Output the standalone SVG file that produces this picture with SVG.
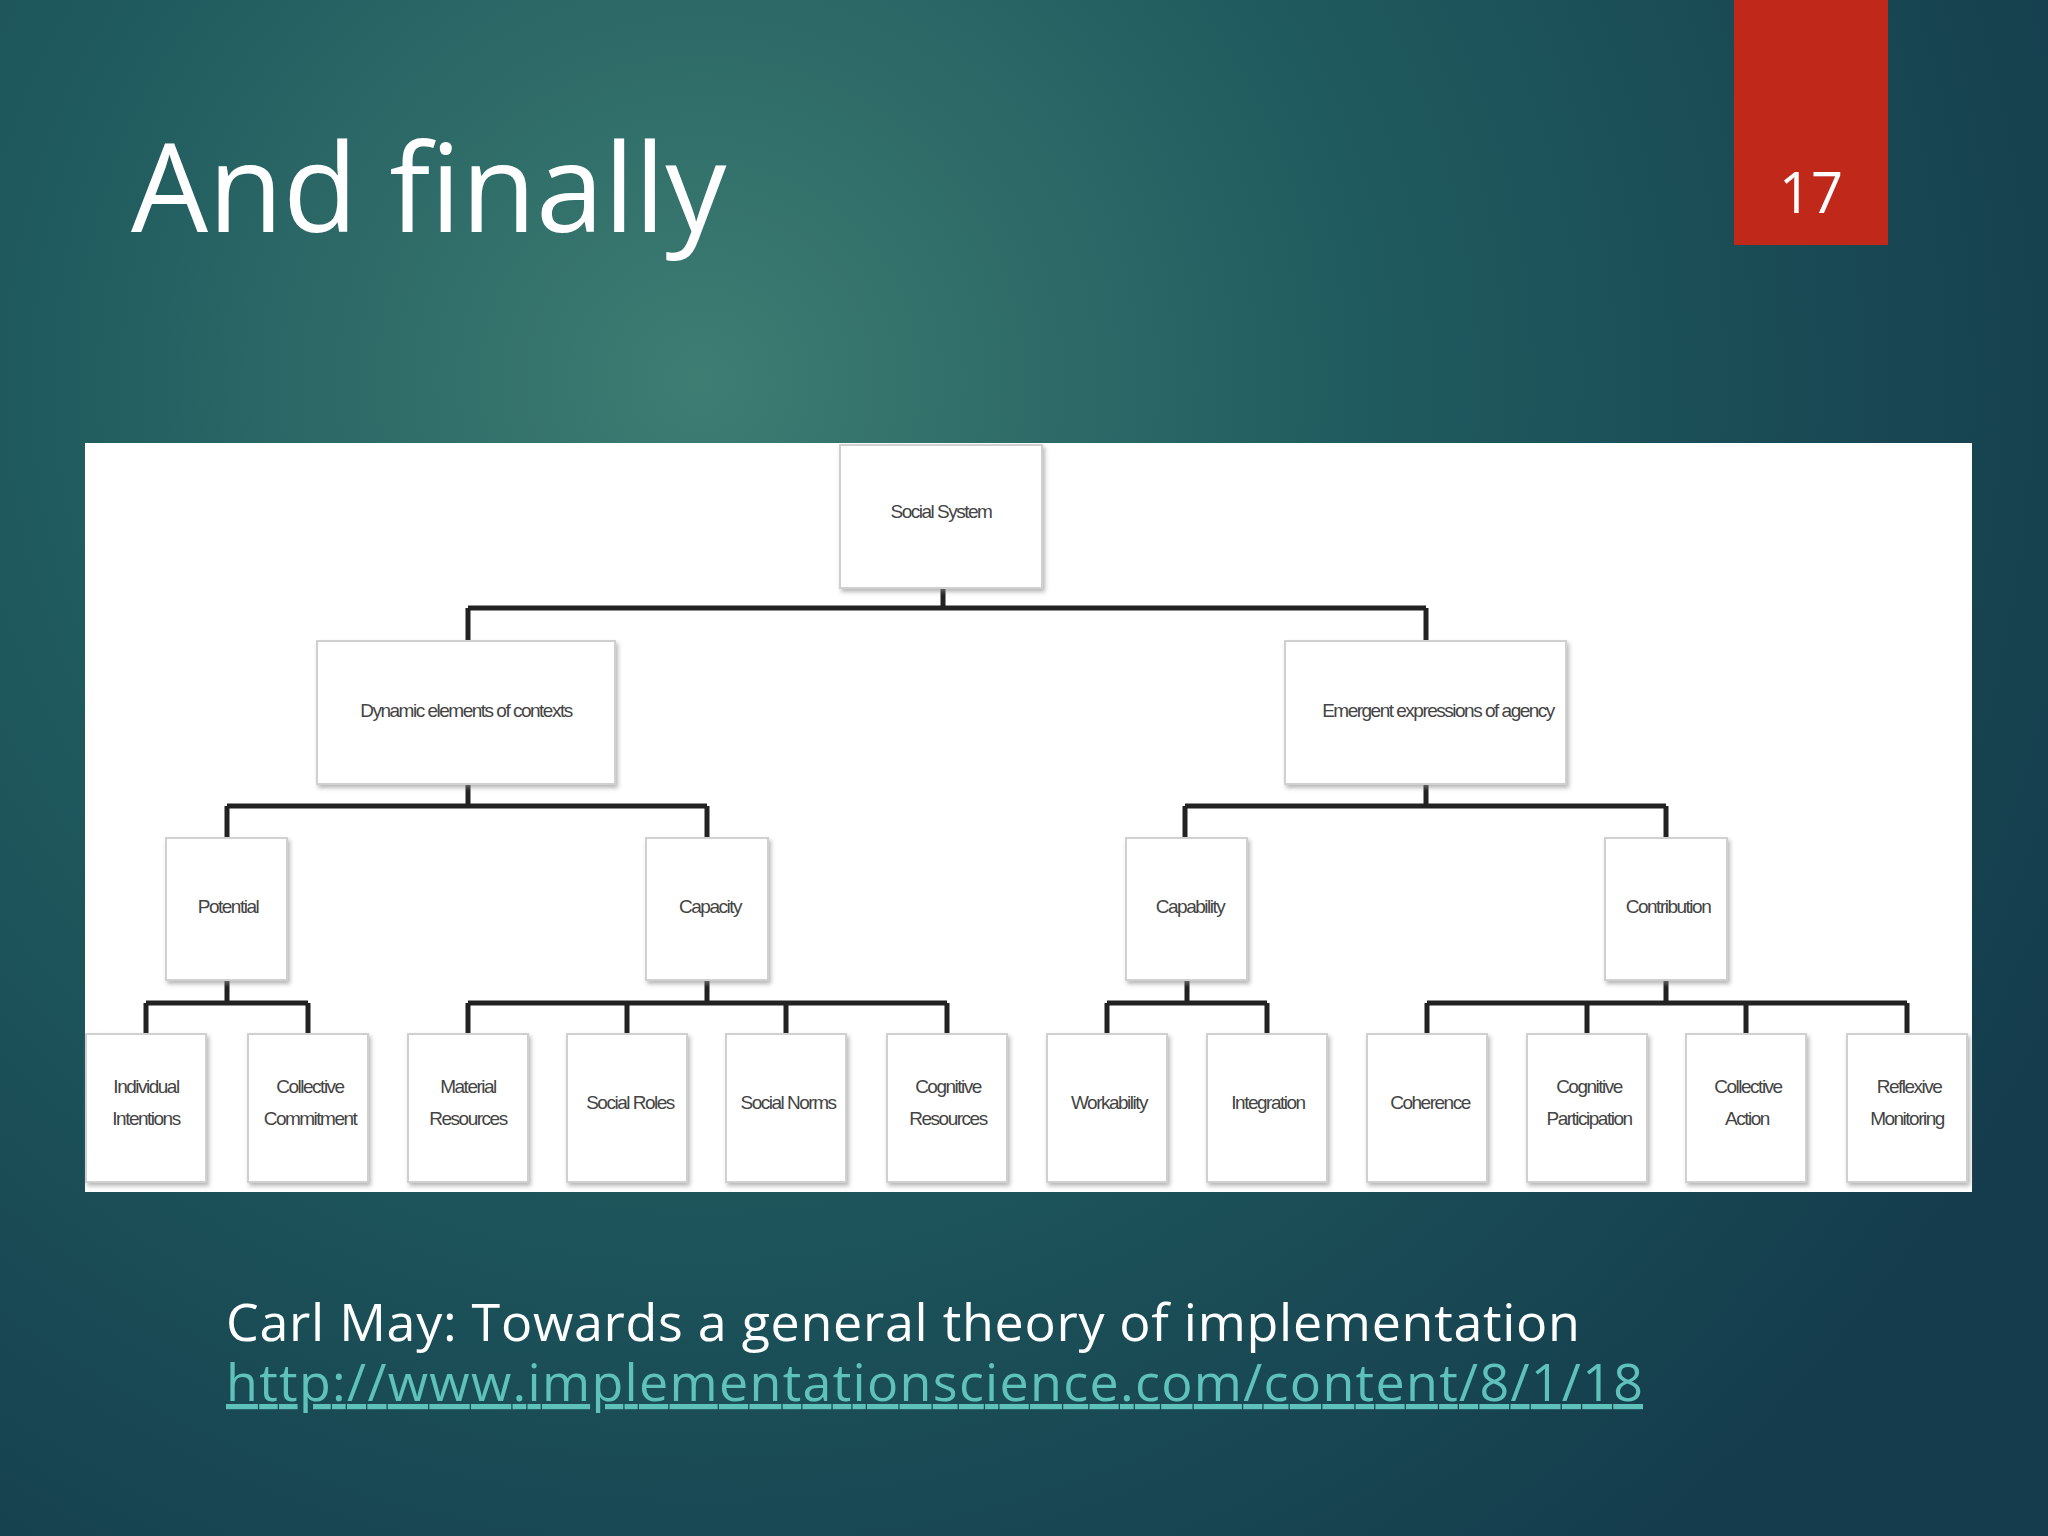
<svg xmlns="http://www.w3.org/2000/svg" width="2048" height="1536" viewBox="0 0 2048 1536">
<defs>
<radialGradient id="bg" cx="700" cy="380" r="1500" gradientUnits="userSpaceOnUse">
<stop offset="0" stop-color="#3d7d72"/><stop offset="0.45" stop-color="#1f5a5e"/><stop offset="1" stop-color="#143c4c"/>
</radialGradient>
<filter id="sh" x="-10%" y="-10%" width="130%" height="130%"><feDropShadow dx="2" dy="3" stdDeviation="2" flood-color="#888" flood-opacity="0.6"/></filter>
</defs>
<style>
.b{fill:#fff;stroke:#d0d0d0;stroke-width:2;filter:url(#sh)}
.t{font-family:"Liberation Sans",Arial,sans-serif;font-size:19px;fill:#444;text-anchor:middle;letter-spacing:-1.5px}
.c{stroke:#222;stroke-width:5;fill:none}
</style>
<rect width="2048" height="1536" fill="url(#bg)"/>
<text x="131" y="232" font-family="'Open Sans',Lato,sans-serif" font-size="122" fill="#fff">And finally</text>
<rect x="1734" y="0" width="154" height="245" fill="#c0281a"/>
<text x="1811" y="213" font-family="'Open Sans',sans-serif" font-size="56" fill="#fff" text-anchor="middle">17</text>
<rect x="85" y="443" width="1887" height="749" fill="#fff"/>
<g id="connectors">
<path class="c" d="M943 588V608M468 608H1426M468 608V641M1426 608V641"/>
<path class="c" d="M468 784V806M227 806H707M227 806V838M707 806V838M1426 784V806M1185 806H1666M1185 806V838M1666 806V838"/>
<path class="c" d="M227 980V1003M146 1003H308M146 1003V1034M308 1003V1034"/>
<path class="c" d="M707 980V1003M468 1003H947M468 1003V1034M627 1003V1034M786 1003V1034M947 1003V1034"/>
<path class="c" d="M1187 980V1003M1107 1003H1267M1107 1003V1034M1267 1003V1034"/>
<path class="c" d="M1666 980V1003M1427 1003H1907M1427 1003V1034M1587 1003V1034M1746 1003V1034M1907 1003V1034"/>
</g>
<g id="n-social"><rect class="b" x="840" y="445" width="202" height="143"/><text class="t" x="941" y="518">Social System</text></g>
<g id="n-dynamic"><rect class="b" x="317" y="641" width="298" height="143"/><text class="t" x="466" y="717">Dynamic elements of contexts</text></g>
<g id="n-emergent"><rect class="b" x="1285" y="641" width="281" height="143"/><text class="t" x="1438" y="717">Emergent expressions of agency</text></g>
<g id="n-potential"><rect class="b" x="166" y="838" width="121" height="142"/><text class="t" x="228" y="913">Potential</text></g>
<g id="n-capacity"><rect class="b" x="646" y="838" width="122" height="142"/><text class="t" x="710" y="913">Capacity</text></g>
<g id="n-capability"><rect class="b" x="1126" y="838" width="121" height="142"/><text class="t" x="1190" y="913">Capability</text></g>
<g id="n-contribution"><rect class="b" x="1605" y="838" width="122" height="142"/><text class="t" x="1668" y="913">Contribution</text></g>
<g id="n-ii"><rect class="b" x="86" y="1034" width="120" height="148"/><text class="t" x="146" y="1093">Individual</text><text class="t" x="146" y="1125">Intentions</text></g>
<g id="n-cc"><rect class="b" x="248" y="1034" width="120" height="148"/><text class="t" x="310" y="1093">Collective</text><text class="t" x="310" y="1125">Commitment</text></g>
<g id="n-mr"><rect class="b" x="408" y="1034" width="120" height="148"/><text class="t" x="468" y="1093">Material</text><text class="t" x="468" y="1125">Resources</text></g>
<g id="n-sr"><rect class="b" x="567" y="1034" width="120" height="148"/><text class="t" x="630" y="1109">Social Roles</text></g>
<g id="n-sn"><rect class="b" x="726" y="1034" width="120" height="148"/><text class="t" x="788" y="1109">Social Norms</text></g>
<g id="n-cr"><rect class="b" x="887" y="1034" width="120" height="148"/><text class="t" x="948" y="1093">Cognitive</text><text class="t" x="948" y="1125">Resources</text></g>
<g id="n-wo"><rect class="b" x="1047" y="1034" width="120" height="148"/><text class="t" x="1109" y="1109">Workability</text></g>
<g id="n-in"><rect class="b" x="1207" y="1034" width="120" height="148"/><text class="t" x="1268" y="1109">Integration</text></g>
<g id="n-co"><rect class="b" x="1367" y="1034" width="120" height="148"/><text class="t" x="1430" y="1109">Coherence</text></g>
<g id="n-cp"><rect class="b" x="1527" y="1034" width="120" height="148"/><text class="t" x="1589" y="1093">Cognitive</text><text class="t" x="1589" y="1125">Participation</text></g>
<g id="n-ca"><rect class="b" x="1686" y="1034" width="120" height="148"/><text class="t" x="1748" y="1093">Collective</text><text class="t" x="1747" y="1125">Action</text></g>
<g id="n-rm"><rect class="b" x="1847" y="1034" width="120" height="148"/><text class="t" x="1909" y="1093">Reflexive</text><text class="t" x="1907" y="1125">Monitoring</text></g>
<text x="226" y="1341" font-family="'Open Sans',Lato,sans-serif" font-size="52" fill="#fff" textLength="1354" lengthAdjust="spacing">Carl May: Towards a general theory of implementation</text>
<text x="226" y="1401" font-family="'Open Sans',Lato,sans-serif" font-size="52" fill="#5ec2bb" text-decoration="underline" textLength="1417" lengthAdjust="spacing">http://www.implementationscience.com/content/8/1/18</text>
</svg>
